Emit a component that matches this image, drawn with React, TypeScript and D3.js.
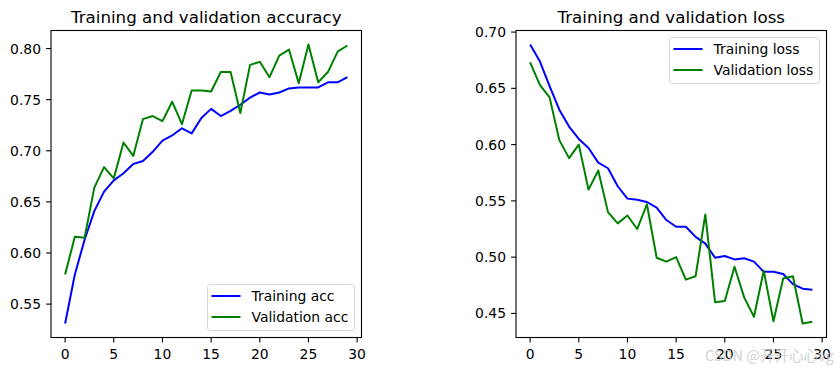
import * as React from "react";
import * as d3 from "d3";

const epochs = d3.range(30);

const trainAcc = [
  0.531, 0.579, 0.613, 0.641, 0.66, 0.671, 0.678, 0.687, 0.69, 0.699,
  0.71, 0.715, 0.722, 0.717, 0.732, 0.741, 0.734, 0.739, 0.745, 0.752,
  0.757, 0.755, 0.757, 0.761, 0.762, 0.762, 0.762, 0.767, 0.767, 0.772,
];
const valAcc = [
  0.579, 0.616, 0.615, 0.664, 0.684, 0.673, 0.708, 0.695, 0.731, 0.734,
  0.729, 0.748, 0.726, 0.759, 0.759, 0.758, 0.777, 0.777, 0.737, 0.784,
  0.787, 0.772, 0.793, 0.799, 0.766, 0.804, 0.767, 0.777, 0.797, 0.803,
];
const trainLoss = [
  0.689, 0.674, 0.652, 0.631, 0.616, 0.605, 0.597, 0.584, 0.579, 0.563,
  0.552, 0.551, 0.549, 0.544, 0.533, 0.527, 0.527, 0.518, 0.512, 0.4995,
  0.501, 0.498, 0.499, 0.496, 0.487, 0.487, 0.485, 0.476, 0.472, 0.471,
];
const valLoss = [
  0.673, 0.653, 0.642, 0.604, 0.588, 0.6, 0.56, 0.577, 0.54, 0.53,
  0.537, 0.525, 0.547, 0.4995, 0.496, 0.5, 0.48, 0.483, 0.538, 0.46,
  0.461, 0.4915, 0.464, 0.447, 0.488, 0.443, 0.481, 0.483, 0.441, 0.4425,
];

const xTicks = [0, 5, 10, 15, 20, 25, 30];
const accTicks = [0.55, 0.6, 0.65, 0.7, 0.75, 0.8];
const lossTicks = [0.45, 0.5, 0.55, 0.6, 0.65, 0.7];

const FONT = "DejaVu Sans, sans-serif";
const TICK_FS = 13.9;

type Series = { label: string; color: string; values: number[] };

type PanelProps = {
  left: number;
  top: number;
  width: number;
  height: number;
  title: string;
  series: Series[];
  yTicks: number[];
  legend: "lower right" | "upper right";
};

const Panel = ({ left, top, width, height, title, series, yTicks, legend }: PanelProps) => {
  const x = d3
    .scaleLinear()
    .domain([-1.45, 30.45])
    .range([0, width]);

  const all = series.flatMap((s) => s.values);
  const [lo, hi] = d3.extent(all) as [number, number];
  const pad = (hi - lo) * 0.05;
  const y = d3
    .scaleLinear()
    .domain([lo - pad, hi + pad])
    .range([height, 0]);

  const line = d3
    .line<number>()
    .x((_, i) => x(epochs[i]))
    .y((d) => y(d));

  const legW = legend === "lower right" ? 147 : 150;
  const legH = 46;
  const legX = width - legW - 7;
  const legY = legend === "lower right" ? height - legH - 7 : 7;

  return (
    <g transform={`translate(${left},${top})`}>
      <text
        x={width / 2}
        y={-8}
        textAnchor="middle"
        fontSize={16.7}
        fontFamily={FONT}
        fill="#000"
      >
        {title}
      </text>
      {series.map((s) => (
        <path
          key={s.label}
          d={line(s.values) ?? ""}
          fill="none"
          stroke={s.color}
          strokeWidth={2}
          strokeLinejoin="round"
        />
      ))}
      <rect x={0} y={0} width={width} height={height} fill="none" stroke="#000" strokeWidth={1.1} />
      {xTicks.map((t) => (
        <g key={t} transform={`translate(${x(t)},${height})`}>
          <line y2={4.9} stroke="#000" strokeWidth={1.1} />
          <text y={21.5} textAnchor="middle" fontSize={TICK_FS} fontFamily={FONT} fill="#000">
            {t}
          </text>
        </g>
      ))}
      {yTicks.map((t) => (
        <g key={t} transform={`translate(0,${y(t)})`}>
          <line x2={-4.9} stroke="#000" strokeWidth={1.1} />
          <text x={-10} dy="0.36em" textAnchor="end" fontSize={TICK_FS} fontFamily={FONT} fill="#000">
            {t.toFixed(2)}
          </text>
        </g>
      ))}
      <g transform={`translate(${legX},${legY})`}>
        <rect
          width={legW}
          height={legH}
          rx={3}
          fill="#fff"
          fillOpacity={0.8}
          stroke="#d6d6d6"
          strokeWidth={1}
        />
        {series.map((s, i) => (
          <g key={s.label} transform={`translate(0,${11.5 + i * 21})`}>
            <line x1={4} x2={33} stroke={s.color} strokeWidth={2} />
            <text x={44} dy="0.36em" fontSize={TICK_FS} fontFamily={FONT} fill="#000">
              {s.label}
            </text>
          </g>
        ))}
      </g>
    </g>
  );
};

export default function App() {
  return (
    <svg
      width={840}
      height={372}
      style={{ position: "absolute", left: 0, top: 0, background: "#fff" }}
    >
      <Panel
        left={51}
        top={30.5}
        width={310.5}
        height={307}
        title="Training and validation accuracy"
        yTicks={accTicks}
        legend="lower right"
        series={[
          { label: "Training acc", color: "blue", values: trainAcc },
          { label: "Validation acc", color: "green", values: valAcc },
        ]}
      />
      <Panel
        left={516}
        top={30.5}
        width={310.5}
        height={307}
        title="Training and validation loss"
        yTicks={lossTicks}
        legend="upper right"
        series={[
          { label: "Training loss", color: "blue", values: trainLoss },
          { label: "Validation loss", color: "green", values: valLoss },
        ]}
      />
      <text
        x={705}
        y={361}
        fontSize={14.5}
        fontFamily="Noto Sans CJK SC, sans-serif"
        fill="#c8c8c8"
        opacity={0.8}
      >
        CSDN @开开心心vg
      </text>
    </svg>
  );
}
